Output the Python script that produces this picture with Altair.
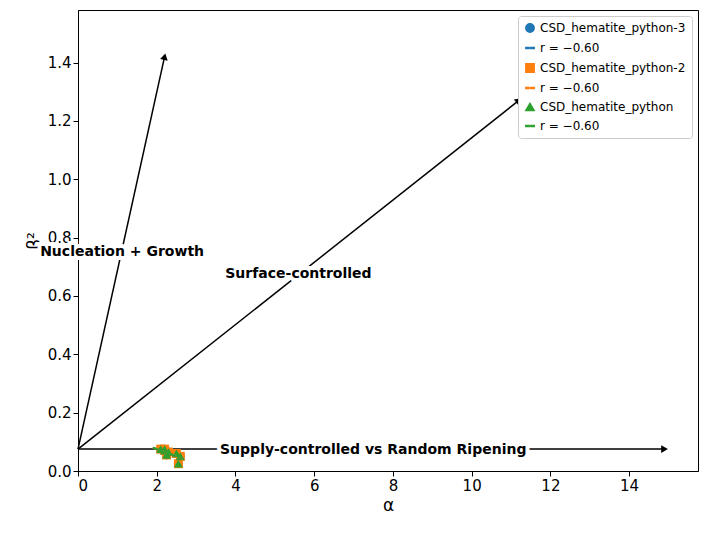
import altair as alt
import pandas as pd

series = ["CSD_hematite_python-3", "CSD_hematite_python-2", "CSD_hematite_python"]
r_labels = ["r = −0.60", "r = −0.60 ", "r = −0.60  "]
colors = ["#1f77b4", "#ff7f0e", "#2ca02c"]

pt_x = [2.1, 2.2, 2.3, 2.25, 2.5, 2.6, 2.55, 2.2]
pt_y = [0.075, 0.07, 0.065, 0.055, 0.06, 0.05, 0.025, 0.075]
fit_x = [1.9, 2.7]
fit_y = [0.08, 0.04]

origin = (0.0, 0.075)
arrow_ends = [(2.2, 1.42), (11.2, 1.27), (14.9, 0.075)]
arrow_angles = [12.5, 51.5, 90]
labels = ["Nucleation + Growth", "Surface-controlled", "Supply-controlled vs Random Ripening"]
label_x = [1.12, 5.6, 7.5]
label_y = [0.75, 0.675, 0.072]

domain = [series[0], r_labels[0], series[1], r_labels[1], series[2], r_labels[2]]
dash = "M-1,-0.12H-0.2V0.12H-1Z M0.2,-0.12H1V0.12H0.2Z"
shape_range = ["circle", dash, "square", dash, "triangle-up", dash]
color_range = [colors[0], colors[0], colors[1], colors[1], colors[2], colors[2]]

pts = pd.DataFrame([{"x": x, "y": y, "entry": s} for s in series for x, y in zip(pt_x, pt_y)])
fits = pd.DataFrame([{"x": x, "y": y, "entry": r} for r in r_labels for x, y in zip(fit_x, fit_y)])
arrows = pd.DataFrame([{"id": i, "x": origin[0], "y": origin[1]} for i in range(3)]
                      + [{"id": i, "x": e[0], "y": e[1]} for i, e in enumerate(arrow_ends)])
heads = pd.DataFrame({"x": [e[0] for e in arrow_ends], "y": [e[1] for e in arrow_ends], "angle": arrow_angles})
texts = pd.DataFrame({"x": label_x, "y": label_y, "label": labels})

F = "DejaVu Sans"
xs = alt.Scale(domain=[0, 15.75], nice=False)
ys = alt.Scale(domain=[0, 1.58], nice=False)
X = alt.X("x:Q", scale=xs, title="α", axis=alt.Axis(values=list(range(0, 16, 2)), grid=False))
Y = alt.Y("y:Q", scale=ys, title="β²", axis=alt.Axis(values=[i / 5 for i in range(8)], format=".1f", grid=False))
color = alt.Color("entry:N", scale=alt.Scale(domain=domain, range=color_range),
                  legend=alt.Legend(title=None, orient="top-right", offset=6, fillColor="white",
                                    strokeColor="#cccccc", padding=6, labelFontSize=12, labelFont=F,
                                    symbolSize=70, cornerRadius=3, rowPadding=6))
shape = alt.Shape("entry:N", scale=alt.Scale(domain=domain, range=shape_range))

arrow_lines = alt.Chart(arrows).mark_line(color="black", strokeWidth=1.5).encode(x=X, y=Y, detail="id:N")
arrow_heads = alt.Chart(heads).mark_point(shape="triangle-up", filled=True, color="black", size=60, opacity=1).encode(
    x="x:Q", y="y:Q", angle=alt.Angle("angle:Q", scale=None))
halo = alt.Chart(texts).mark_text(font=F, fontWeight="bold", fontSize=14, stroke="white", strokeWidth=8, color="white").encode(
    x="x:Q", y="y:Q", text="label:N")
txt = alt.Chart(texts).mark_text(font=F, fontWeight="bold", fontSize=14, color="black").encode(
    x="x:Q", y="y:Q", text="label:N")
points = alt.Chart(pts).mark_point(filled=True, size=80, opacity=1).encode(x="x:Q", y="y:Q", color=color, shape=shape)
lines = alt.Chart(fits).mark_line(strokeDash=[6, 3], strokeWidth=2).encode(x="x:Q", y="y:Q", color=color, detail="entry:N")

chart = alt.layer(arrow_lines, arrow_heads, points, lines, halo, txt).properties(
    width=620, height=461, autosize=alt.AutoSizeParams(type="none"),
    padding={"left": 70, "top": 2, "right": 1, "bottom": 55},
).configure_axis(labelFontSize=15, titleFontSize=17, titleFontWeight="normal", labelColor="black",
                 labelFont=F, titleFont=F, tickColor="black", domainColor="black", titleColor="black",
                 tickSize=5
).configure_view(stroke="black")

chart.save("out.html", embed_options={"renderer": "svg", "actions": False})
